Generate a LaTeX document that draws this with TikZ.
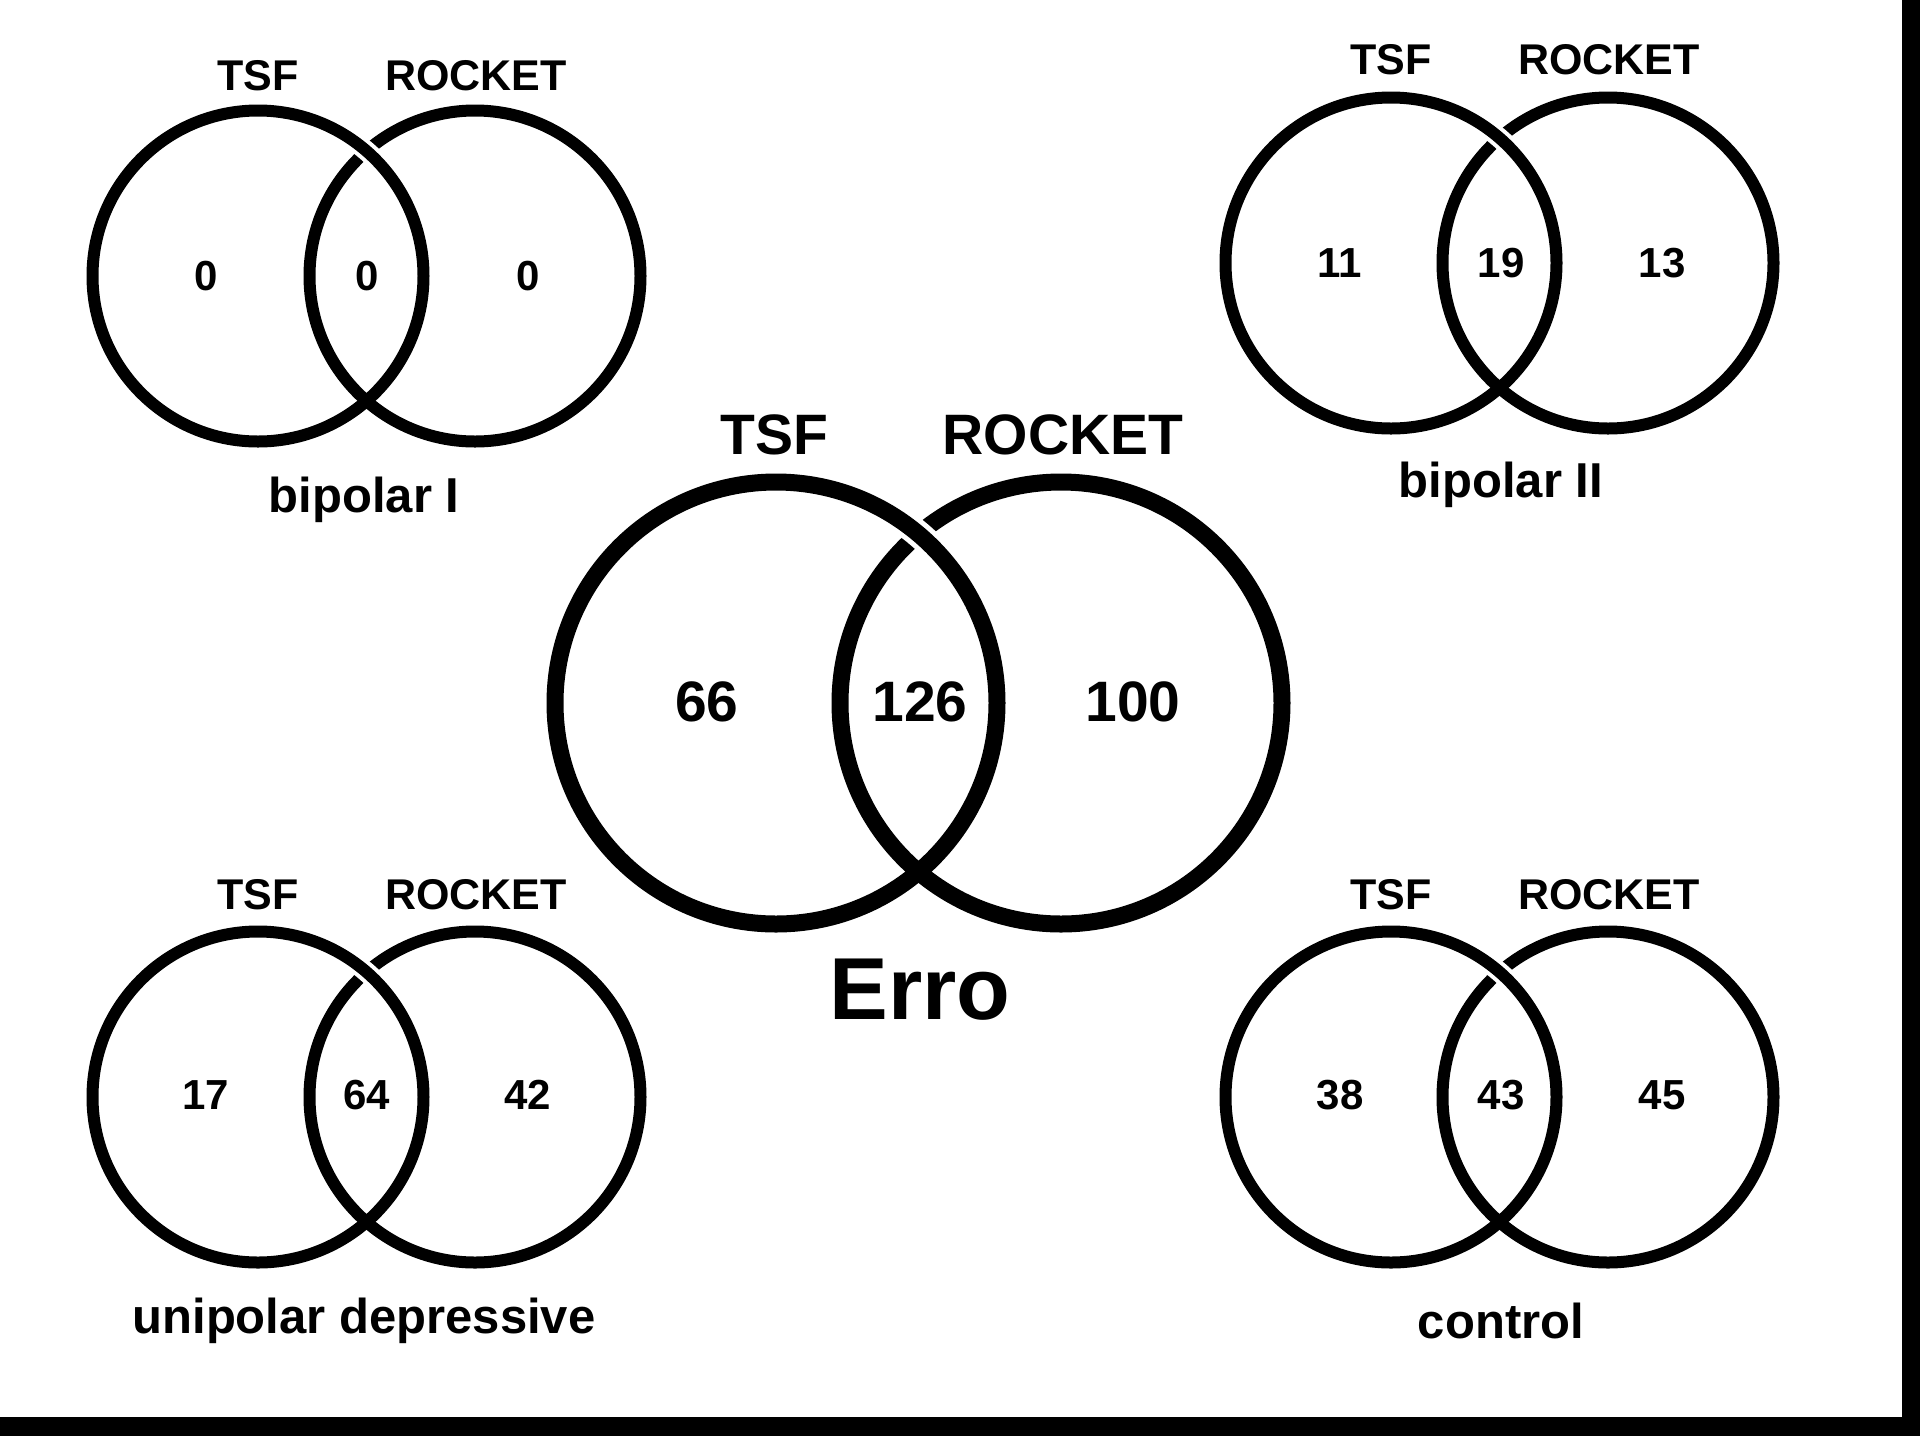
\documentclass[tikz,border=0pt]{standalone}
\usepackage{fontspec}
\setmainfont{Liberation Sans}

\tikzset{every picture/.style={line width=0.75pt}}
\tikzset{
  ring/.style={draw=black, line width=12pt},
  halo/.style={draw=white, line width=20pt},
  bigring/.style={draw=black, line width=17pt},
  bighalo/.style={draw=white, line width=27pt},
  setname/.style={font=\fontsize{43}{52}\selectfont\bfseries},
  countnum/.style={font=\fontsize{42}{50}\selectfont\bfseries},
  groupname/.style={font=\fontsize{49}{58}\selectfont\bfseries},
  bigsetname/.style={font=\fontsize{57}{68}\selectfont\bfseries},
  bigcountnum/.style={font=\fontsize{57}{68}\selectfont\bfseries},
  titlename/.style={font=\fontsize{88}{100}\selectfont\bfseries}
}

\begin{document}
\begin{tikzpicture}[x=1pt,y=1pt,yscale=-1,xscale=1]

        \useasboundingbox (0,0) rectangle (1920,1436);

        % frame on the right and at the bottom
        \fill[black] (1902,0) rectangle (1920,1436);
        \fill[black] (0,1417) rectangle (1920,1436);

        % bipolar I
        \draw[ring] (475,276) circle (165.5pt);
        \draw[halo] (258,276) ++(-60:165.5pt) arc (-60:-38:165.5pt);
        \draw[ring] (258,276) circle (165.5pt);

        \node[setname] (tsf1) at (258,76){TSF};
        \node[setname] (rocket1) at (476,76){ROCKET};
        \node[countnum] (only1) at (206,276){0};
        \node[countnum] (both1) at (367,276){0};
        \node[countnum] (rest1) at (528,276){0};
        \node[groupname] (group1) at (364,500){bipolar I};

        % bipolar II
        \draw[ring] (1608,263) circle (165.5pt);
        \draw[halo] (1391,263) ++(-60:165.5pt) arc (-60:-38:165.5pt);
        \draw[ring] (1391,263) circle (165.5pt);

        \node[setname] (tsf2) at (1391,60){TSF};
        \node[setname] (rocket2) at (1609,60){ROCKET};
        \node[countnum] (only2) at (1340,263){11};
        \node[countnum] (both2) at (1501,263){19};
        \node[countnum] (rest2) at (1662,263){13};
        \node[groupname] (group2) at (1501,485){bipolar II};

        % unipolar depressive
        \draw[ring] (475,1097) circle (165.5pt);
        \draw[halo] (258,1097) ++(-60:165.5pt) arc (-60:-38:165.5pt);
        \draw[ring] (258,1097) circle (165.5pt);

        \node[setname] (tsf3) at (258,895){TSF};
        \node[setname] (rocket3) at (476,895){ROCKET};
        \node[countnum] (only3) at (206,1095){17};
        \node[countnum] (both3) at (367,1095){64};
        \node[countnum] (rest3) at (528,1095){42};
        \node[groupname] (group3) at (364,1321){unipolar depressive};

        % control
        \draw[ring] (1608,1097) circle (165.5pt);
        \draw[halo] (1391,1097) ++(-60:165.5pt) arc (-60:-38:165.5pt);
        \draw[ring] (1391,1097) circle (165.5pt);

        \node[setname] (tsf4) at (1391,895){TSF};
        \node[setname] (rocket4) at (1609,895){ROCKET};
        \node[countnum] (only4) at (1340,1095){38};
        \node[countnum] (both4) at (1501,1095){43};
        \node[countnum] (rest4) at (1662,1095){45};
        \node[groupname] (group4) at (1501,1321){control};

        % Erro, in the middle
        \draw[bigring] (1061,703) circle (221pt);
        \draw[bighalo] (776,703) ++(-60:221pt) arc (-60:-39:221pt);
        \draw[bigring] (776,703) circle (221pt);

        \node[bigsetname] (tsf) at (774,435){TSF};
        \node[bigsetname] (rocket) at (1063,435){ROCKET};
        \node[bigcountnum] (only) at (707,702){66};
        \node[bigcountnum] (both) at (920,702){126};
        \node[bigcountnum] (rest) at (1133,702){100};
        \node[titlename] (erro) at (920,990){Erro};

\end{tikzpicture}
\end{document}
